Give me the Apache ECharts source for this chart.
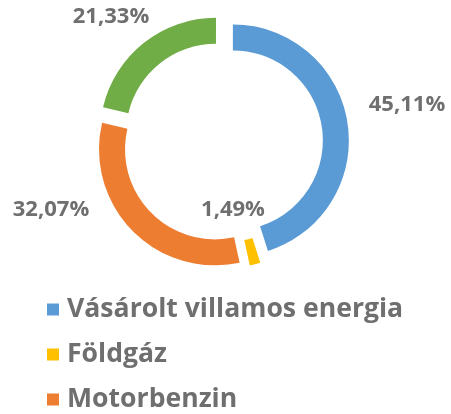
<!DOCTYPE html>
<html>
<head>
<meta charset="utf-8">
<script src="https://cdn.jsdelivr.net/npm/echarts@6/dist/echarts.min.js"></script>
<style>
html,body{margin:0;padding:0;background:#fff;}
#chart{width:451px;height:414px;}
</style>
</head>
<body>
<div id="chart"></div>
<script>
const categories = ['Vásárolt villamos energia', 'Földgáz', 'Motorbenzin', 'Gázolaj'];
const values = [45.11, 1.49, 32.07, 21.33];
const colors = ['#5B9BD5', '#FFC000', '#ED7D31', '#70AD47'];
const legendNames = ['Vásárolt villamos energia', 'Földgáz', 'Motorbenzin'];

const labelPos = [[407, 105], [233, 210], [51, 210], [111, 17]];
const textColor = '#6f6f6f';
const fontFam = '"Open Sans", sans-serif';

const chart = echarts.init(document.getElementById('chart'), null, {renderer: 'canvas'});
chart.setOption({
  animation: false,
  legend: {
    data: legendNames,
    orient: 'vertical',
    left: 47,
    top: 296,
    padding: 0,
    height: 200,
    itemWidth: 12,
    itemHeight: 12,
    itemGap: 18,
    icon: 'rect',
    selectedMode: false,
    textStyle: {color: textColor, fontSize: 26.6, lineHeight: 27, fontWeight: 'bold', fontFamily: fontFam, padding: [0, 0, 0, 3]}
  },
  series: [{
    type: 'pie',
    center: [222.5, 142],
    radius: [90, 116],
    startAngle: 90,
    clockwise: true,
    selectedMode: 'multiple',
    selectedOffset: 10.5,
    emphasis: {disabled: true},
    label: {show: false},
    labelLine: {show: false},
    data: categories.map((c, i) => ({
      name: c,
      value: values[i],
      selected: true,
      itemStyle: {color: colors[i]},
      select: {itemStyle: {color: colors[i]}}
    }))
  }, {
    type: 'pie',
    center: [222.5, 142],
    radius: [90, 116],
    startAngle: 90,
    clockwise: true,
    silent: true,
    avoidLabelOverlap: false,
    emphasis: {disabled: true},
    itemStyle: {color: 'rgba(0,0,0,0)'},
    label: {
      show: true,
      color: textColor,
      fontSize: 22,
      fontWeight: 'bold',
      fontFamily: fontFam,
      formatter: p => p.value.toFixed(2).replace('.', ',') + '%'
    },
    labelLine: {show: false},
    labelLayout: function (p) {
      const pos = labelPos[p.dataIndex];
      return {x: pos[0], y: pos[1], align: 'center', verticalAlign: 'middle'};
    },
    data: categories.map((c, i) => ({name: c, value: values[i]}))
  }]
});
</script>
</body>
</html>
